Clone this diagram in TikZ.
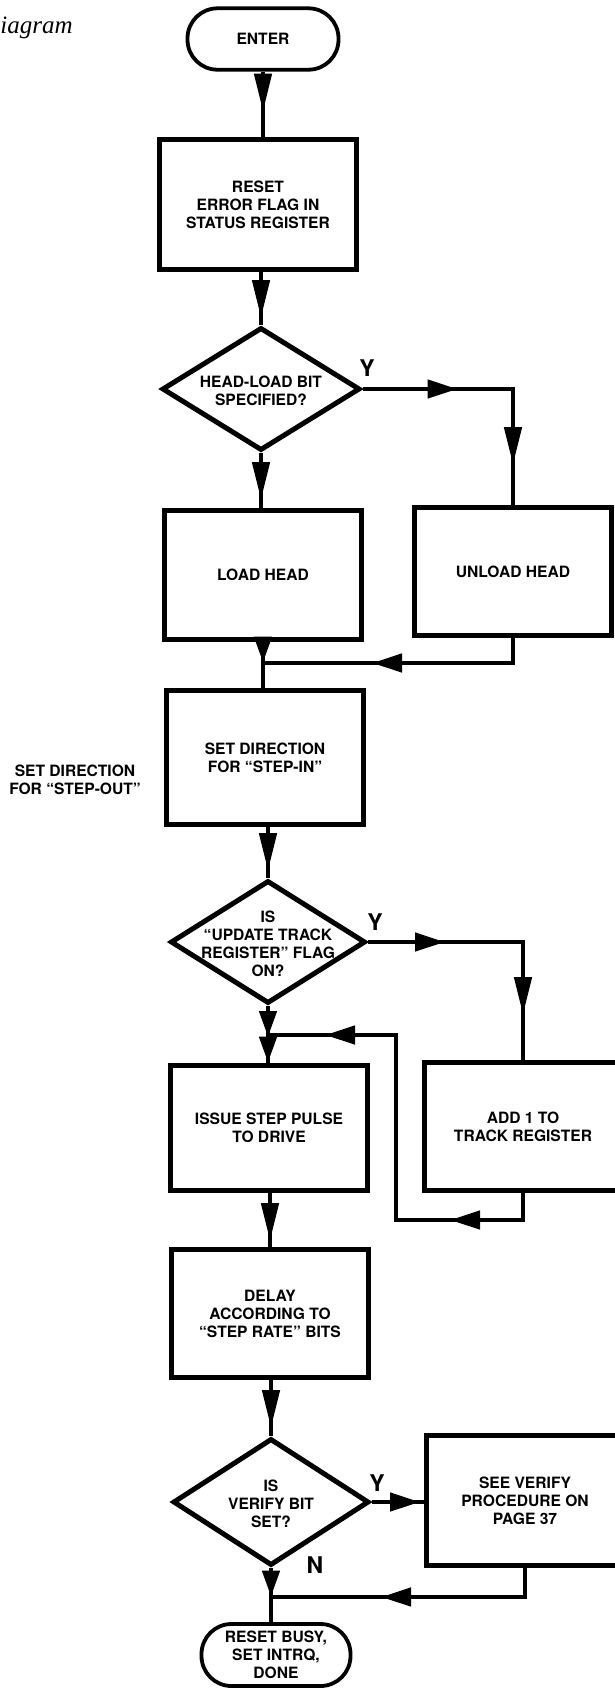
\documentclass[tikz,border=0pt]{standalone}
\usepackage{fontspec}
\setmainfont{TeX Gyre Heros}
\newfontfamily\headingserif{Liberation Serif}
\usetikzlibrary{shapes.geometric, arrows.meta, decorations.markings}

\newcommand{\flowfont}{\fontsize{7.8}{9}\selectfont\bfseries}
% text of a decision, kept out of the diamond size
\newcommand{\dtext}[1]{\makebox[0pt]{\smash{\raisebox{-4pt}{\begin{tabular}{@{}c@{}}#1\end{tabular}}}}}

\tikzset{
  flow/.style={line width=2.3pt},
  vat/.style={postaction={decorate, decoration={markings,
    mark=at position #1 with {\arrow{Triangle[length=19pt, width=8.5pt]}}}}},
  sat/.style={postaction={decorate, decoration={markings,
    mark=at position #1 with {\arrow{Triangle[length=13pt, width=8.5pt]}}}}},
  hat/.style={postaction={decorate, decoration={markings,
    mark=at position #1 with {\arrow{Triangle[length=15pt, width=9pt]}}}}},
  stepbox/.style={draw, rectangle, line width=2.5pt, align=center, inner sep=0pt,
    minimum width=98.5pt, font=\flowfont},
  test/.style={draw, diamond, line width=2.5pt, inner sep=0pt, font=\flowfont},
  term/.style={draw, rectangle, rounded corners=15pt, line width=1.9pt, align=center,
    inner sep=0pt, font=\flowfont},
  yn/.style={font=\fontsize{11.5}{11.5}\selectfont\bfseries}
}

\begin{document}
\begin{tikzpicture}[x=0.5pt, y=-0.5pt]
    \useasboundingbox (0,0) rectangle (615,1688);

    % Ueberschrift, links abgeschnitten
    \node[anchor=base west, inner sep=0pt, font=\headingserif\itshape\fontsize{12.5}{12.5}\selectfont] (title) at (0,33) {iagram};

    % Start und erste Schritte
    \node[term, minimum width=75.5pt, minimum height=30.7pt] (enter) at (263,39) {ENTER};
    \node[stepbox, minimum height=65pt] (reset) at (258,204.5) {\\[-3pt]RESET\\ERROR FLAG IN\\STATUS REGISTER};
    \node[test, minimum width=99pt, minimum height=61.5pt] (head) at (261,389) {\dtext{HEAD-LOAD BIT\\SPECIFIED?}};
    \node[yn] (yhead) at (367,368) {Y};

    % Kopf laden / entladen
    \node[stepbox, minimum height=64.5pt] (load) at (263,575) {LOAD HEAD};
    \node[stepbox, minimum height=64pt] (unload) at (513,571.5) {UNLOAD HEAD};
    \coordinate (join1) at (263,663);

    % Richtung
    \node[stepbox, minimum height=67pt] (stepin) at (265,757.5) {SET DIRECTION\\FOR ``STEP-IN''};
    \node[font=\flowfont, align=center] (stepout) at (75,780) {SET DIRECTION\\FOR ``STEP-OUT''};

    \node[test, minimum width=97.5pt, minimum height=61.5pt] (update) at (268,942) {\dtext{IS\\``UPDATE TRACK\\REGISTER'' FLAG\\ON?}};
    \node[yn] (yupdate) at (375,922) {Y};

    % Schrittimpuls
    \node[stepbox, minimum height=62.5pt] (issue) at (269,1128) {ISSUE STEP PULSE\\TO DRIVE};
    \node[stepbox, minimum height=64pt] (add) at (523,1126.5) {ADD 1 TO\\TRACK REGISTER};
    \coordinate (join2) at (268,1035);
    \coordinate (loopbot) at (396,1220);

    \node[stepbox, minimum height=64pt] (delay) at (270,1313.5) {DELAY\\ACCORDING TO\\``STEP RATE'' BITS};

    % Verify und Ende
    \node[test, minimum width=98pt, minimum height=63.5pt] (verify) at (271,1502) {\dtext{IS\\VERIFY BIT\\SET?}};
    \node[yn] (yverify) at (377,1483) {Y};
    \node[yn] (nverify) at (315,1565) {N};
    \node[stepbox, minimum height=65pt] (see) at (525,1500.5) {SEE VERIFY\\PROCEDURE ON\\PAGE 37};
    \coordinate (join3) at (271,1597);
    \node[term, minimum width=74.5pt, minimum height=31pt] (done) at (276,1655) {RESET BUSY,\\SET INTRQ,\\DONE};

    % Verbindungen
    \draw[flow, vat=20pt] (enter) -- (enter |- reset.north);
    \draw[flow, vat=-3.5pt] (reset.south -| head.north) -- (head.north);
    \draw[flow, vat=-4pt] (head.south) -- (head.south |- load.north);
    \draw[flow, hat=47.5pt, vat=-20pt] (head.east) -| (unload.north);
    \draw[flow, sat=-0.2pt] (load.south -| join1) -- (join1);
    \draw[flow, hat=-54.5pt] (unload.south) |- (join1);
    \draw[flow] (join1) -- (join1 |- stepin.north);
    \draw[flow, vat=-3.5pt] (stepin.south -| update.north) -- (update.north);
    \draw[flow, hat=38.5pt, vat=-22.5pt] (update.east) -| (add.north);
    \draw[flow, sat=15.5pt, sat=-0.2pt] (update.south) -- (update.south |- issue.north);
    \draw[flow, hat=50pt, hat=-28.5pt] (add.south) |- (loopbot) |- (join2);
    \draw[flow, vat=-3pt] (issue.south -| delay.north) -- (delay.north);
    \draw[flow, vat=-4pt] (delay.south -| verify.north) -- (verify.north);
    \draw[flow, hat=-2pt] (verify.east) -- (verify.east -| see.west);
    \draw[flow, sat=-0.2pt] (verify.south) -- (join3);
    \draw[flow, hat=-55pt] (see.south) |- (join3);
    \draw[flow] (join3) -- (join3 |- done.north);
\end{tikzpicture}
\end{document}
